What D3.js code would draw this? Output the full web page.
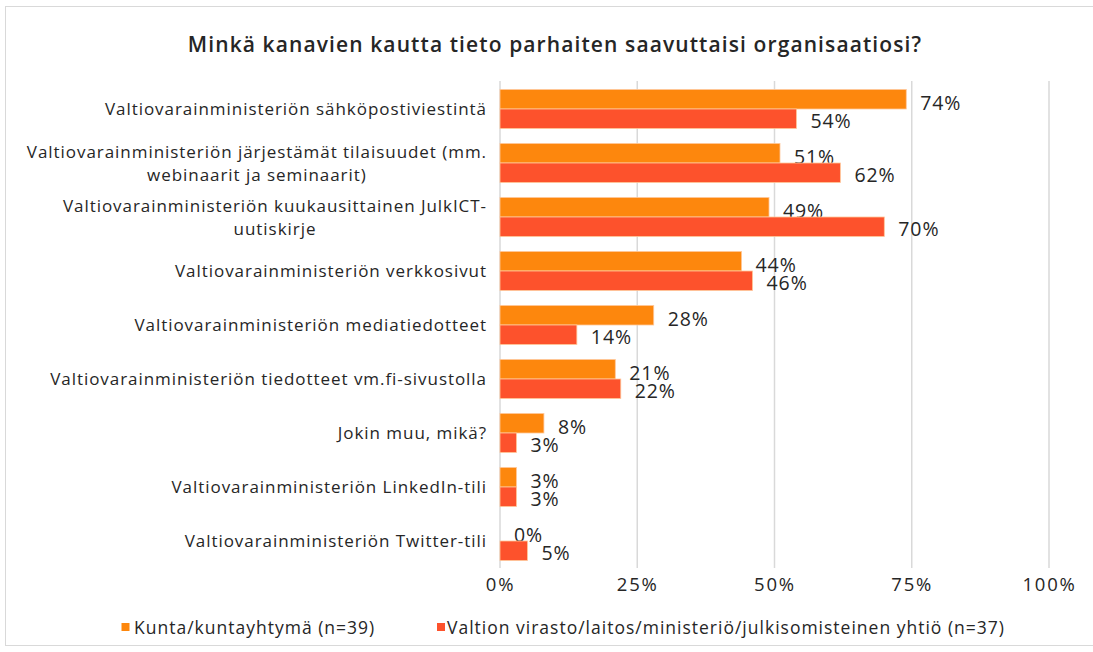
<!DOCTYPE html>
<html>
<head>
<meta charset="utf-8">
<script src="https://cdn.jsdelivr.net/npm/d3@7"></script>
<style>
  body { margin: 0; background: #fff; font-family: "Open Sans", Lato, sans-serif; }
  svg text { fill: #262626; font-family: "Open Sans", Lato, sans-serif; }
</style>
</head>
<body>
<svg id="chart" width="1093" height="652"></svg>
<script>
// categories (each entry = lines of the label)
const categories = [
  ["Valtiovarainministeriön sähköpostiviestintä"],
  ["Valtiovarainministeriön järjestämät tilaisuudet (mm.", "webinaarit ja seminaarit)"],
  ["Valtiovarainministeriön kuukausittainen JulkICT-", "uutiskirje"],
  ["Valtiovarainministeriön verkkosivut"],
  ["Valtiovarainministeriön mediatiedotteet"],
  ["Valtiovarainministeriön tiedotteet vm.fi-sivustolla"],
  ["Jokin muu, mikä?"],
  ["Valtiovarainministeriön LinkedIn-tili"],
  ["Valtiovarainministeriön Twitter-tili"]
];
const kunta = [74, 51, 49, 44, 28, 21, 8, 3, 0];
const valtio = [54, 62, 70, 46, 14, 22, 3, 3, 5];
const seriesNames = ["Kunta/kuntayhtymä (n=39)", "Valtion virasto/laitos/ministeriö/julkisomisteinen yhtiö (n=37)"];
const colors = ["#fd870d", "#fd522c"];
const ticks = [0, 25, 50, 75, 100];

var svg = d3.select('#chart');

// outer frame
svg.append('rect')
  .attr('x', 5.5).attr('y', 6.5)
  .attr('width', 1100).attr('height', 639)
  .attr('fill', 'none')
  .attr('stroke', '#d9d9d9');

svg.append('text')
  .attr('x', 555).attr('y', 52)
  .attr('text-anchor', 'middle')
  .style('font-size', '21px')
  .style('font-weight', '600')
  .style('letter-spacing', '1.1px')
  .text('Minkä kanavien kautta tieto parhaiten saavuttaisi organisaatiosi?');

var x = d3.scaleLinear().domain([0, 100]).range([500, 1049]);
var y = d3.scaleBand().domain(d3.range(categories.length)).range([82, 568]);
var inner = d3.scaleBand().domain([0, 1]).range([0, y.bandwidth()]).paddingOuter(0.385);

// gridlines
svg.append('g')
  .selectAll('line')
  .data(ticks)
  .join('line')
  .attr('x1', d => x(d)).attr('x2', d => x(d))
  .attr('y1', 81).attr('y2', 568)
  .attr('stroke', '#d9d9d9')
  .attr('stroke-width', 1.5);

// x axis labels
var xAxis = d3.axisBottom(x).tickValues(ticks).tickFormat(d => d + '%').tickSize(0);
var ax = svg.append('g')
  .attr('transform', 'translate(0, 575)')
  .call(xAxis);
ax.select('.domain').remove();
ax.selectAll('text')
  .style('font-family', '"Open Sans", sans-serif')
  .style('font-size', '18.5px')
  .style('letter-spacing', '1.8px')
  .attr('fill', '#262626');

// bars
var series = [kunta, valtio];
series.forEach(function(vals, s) {
  var g = svg.append('g');
  g.selectAll('rect')
    .data(vals)
    .join('rect')
    .attr('x', x(0))
    .attr('y', (d, i) => y(i) + inner(s))
    .attr('width', d => x(d) - x(0))
    .attr('height', inner.bandwidth())
    .attr('fill', colors[s])
    .attr('stroke', d => d > 0 ? '#ffc79a' : 'none')
    .attr('stroke-width', 0.8);
  g.selectAll('text')
    .data(vals)
    .join('text')
    .attr('x', d => x(d) + 14)
    .attr('y', (d, i) => y(i) + inner(s) + inner.bandwidth() / 2 + (s === 0 ? 10.5 : 9.5))
    .style('font-size', '19.5px')
    .style('letter-spacing', '0.9px')
    .text(d => d + '%');
});

// category labels
var labelG = svg.append('g');
categories.forEach(function(lines, i) {
  var cy = y(i) + y.bandwidth() / 2;
  var first = labelG.append('text')
    .attr('x', 487)
    .attr('y', cy + 6 - (lines.length - 1) * 11.5)
    .attr('text-anchor', 'end')
    .style('font-size', '17px')
    .style('letter-spacing', '0.95px')
    .text(lines[0]);
  var w = first.node().getComputedTextLength();
  for (var k = 1; k < lines.length; k++) {
    labelG.append('text')
      .attr('x', 487 - w / 2)
      .attr('y', cy + 6 - (lines.length - 1) * 11.5 + k * 23)
      .attr('text-anchor', 'middle')
      .style('font-size', '17px')
      .style('letter-spacing', '0.95px')
      .text(lines[k]);
  }
});

// legend
var legendX = [121.5, 437];
var legendTextX = [134, 447];
var leg = svg.append('g');
seriesNames.forEach(function(name, s) {
  leg.append('rect')
    .attr('x', legendX[s]).attr('y', 623)
    .attr('width', 8).attr('height', 8)
    .attr('fill', colors[s]);
  leg.append('text')
    .attr('x', legendTextX[s]).attr('y', 634)
    .style('font-size', '17.5px')
    .style('letter-spacing', '1px')
    .text(name);
});
</script>
</body>
</html>
